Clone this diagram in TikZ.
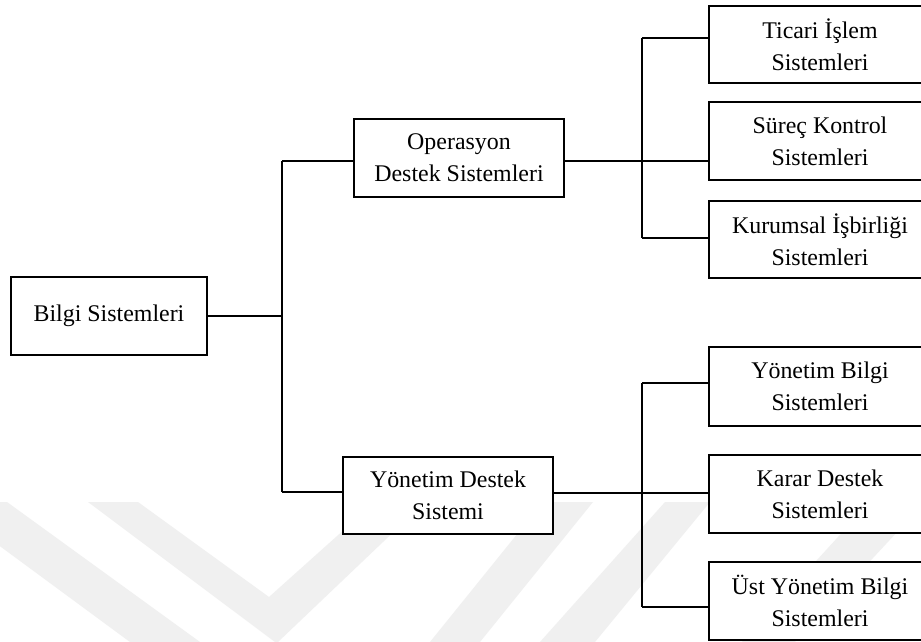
\documentclass[tikz,border=0pt]{standalone}
\usepackage{fontspec}
\setmainfont{Liberation Serif}
\begin{document}
\begin{tikzpicture}[x=1pt,y=-1pt,
  box/.style={draw=black,line width=1.1pt,fill=white,inner sep=0pt,align=center,
    font=\fontsize{23.9}{32}\selectfont},
  bigbox/.style={box,minimum width=210pt,minimum height=78pt},
  rbox/.style={box,minimum width=222pt,minimum height=78pt},
  conn/.style={draw=black,line width=1.8pt},
  wm/.style={fill=black!6,draw=none}]
\useasboundingbox (0,0) rectangle (921,642);
\fill[white] (0,0) rectangle (921,642);
% watermark
\fill[wm] (-60,502) -- (7,502) -- (200,642) -- (130,642) -- cycle;
\fill[wm] (88,502) -- (138,502) -- (269,597) -- (375,502) -- (425,502) -- (278,642) -- (275,642) -- cycle;
\fill[wm] (430,642) -- (480,642) -- (593,502) -- (543,502) -- cycle;
\fill[wm] (540,642) -- (595,642) -- (710,502) -- (665,502) -- cycle;
\fill[wm] (742,642) -- (795,642) -- (925,502) -- (870,502) -- cycle;
% nodes
\node[box,minimum width=196pt,minimum height=78pt] (bs) at (109,316) {Bilgi Sistemleri};
\node[bigbox] (ods) at (459,158) {Operasyon\\Destek Sistemleri};
\node[bigbox,minimum height=77pt] (yds) at (448,495.5) {Yönetim Destek\\Sistemi};
\node[rbox,minimum height=77pt] (tis) at (820,44.5) {Ticari İşlem\\Sistemleri};
\node[rbox] (skl) at (820,141) {Süreç Kontrol\\Sistemleri};
\node[rbox,minimum height=77pt] (kis) at (820,239.5) {Kurumsal İşbirliği\\Sistemleri};
\node[rbox,minimum height=79pt] (ybs) at (820,386.5) {Yönetim Bilgi\\Sistemleri};
\node[rbox] (kds) at (820,494) {Karar Destek\\Sistemleri};
\node[rbox] (uybs) at (820,601) {Üst Yönetim Bilgi\\Sistemleri};
% junction coordinates
\coordinate (t1) at (282,161);
\coordinate (t2) at (282,492);
\coordinate (tm) at (282,316);
\coordinate (u1) at (642,38);
\coordinate (um) at (642,161);
\coordinate (u2) at (642,238);
\coordinate (l1) at (642,383);
\coordinate (lm) at (642,493);
\coordinate (l2) at (642,607);
% connectors
\draw[conn] (bs.east) -- (tm);
\draw[conn] (t1) -- (t2);
\draw[conn] (t1) -- (t1 -| ods.west);
\draw[conn] (t2) -- (t2 -| yds.west);
\draw[conn] (um -| ods.east) -- (um -| skl.west);
\draw[conn] (u1) -- (u2);
\draw[conn] (u1) -- (u1 -| tis.west);
\draw[conn] (u2) -- (u2 -| kis.west);
\draw[conn] (lm -| yds.east) -- (lm -| kds.west);
\draw[conn] (l1) -- (l2);
\draw[conn] (l1) -- (l1 -| ybs.west);
\draw[conn] (l2) -- (l2 -| uybs.west);
\end{tikzpicture}
\end{document}
